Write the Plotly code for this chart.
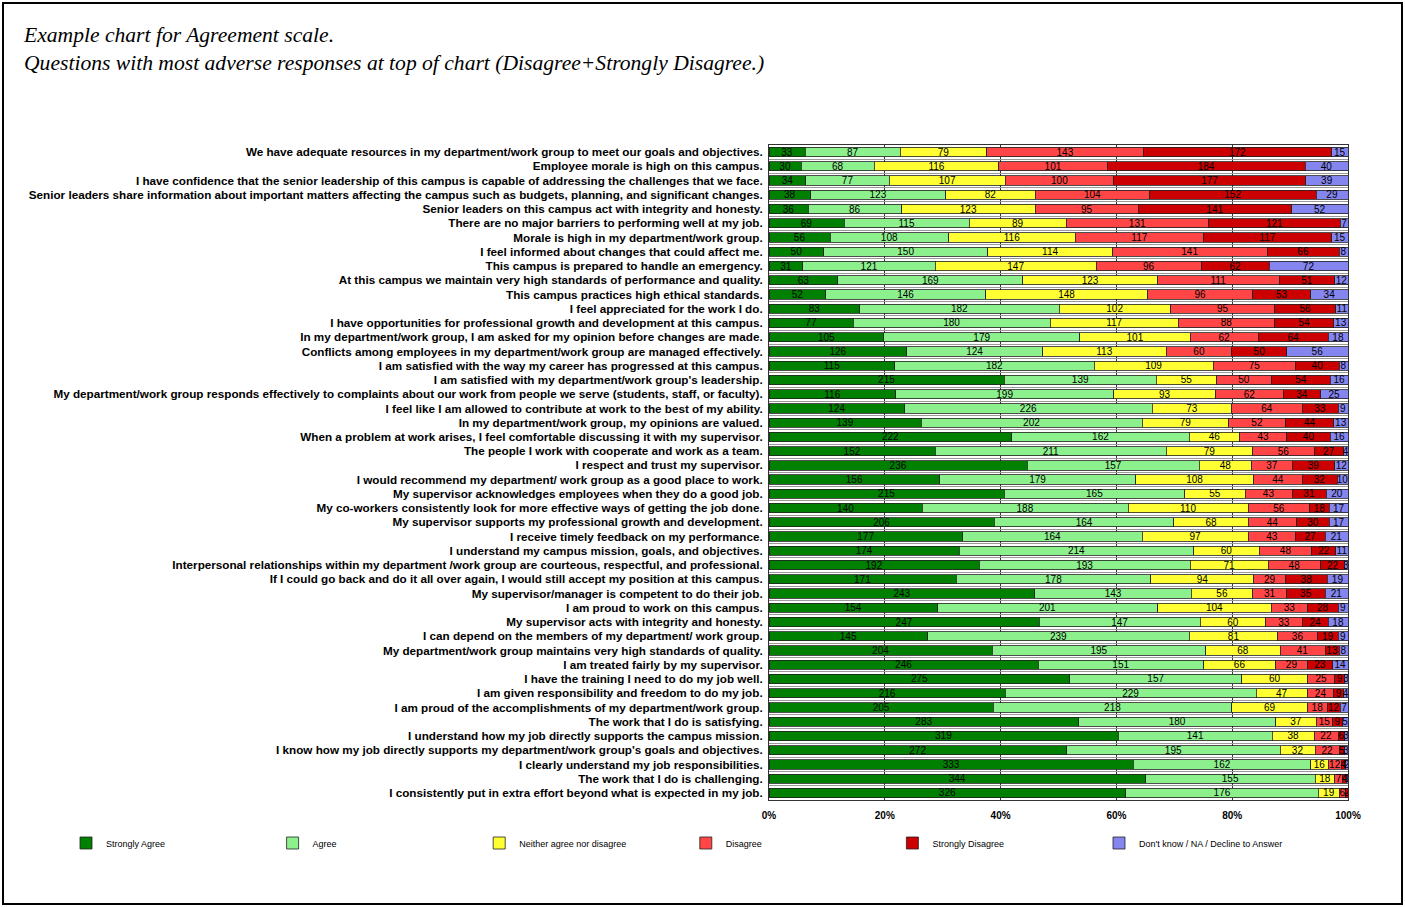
import plotly.graph_objects as go

questions = [
    "We have adequate resources in my department/work group to meet our goals and objectives.",
    "Employee morale is high on this campus.",
    "I have confidence that the senior leadership of this campus is capable of addressing the challenges that we face.",
    "Senior leaders share information about important matters affecting the campus such as budgets, planning, and significant changes.",
    "Senior leaders on this campus act with integrity and honesty.",
    "There are no major barriers to performing well at my job.",
    "Morale is high in my department/work group.",
    "I feel informed about changes that could affect me.",
    "This campus is prepared to handle an emergency.",
    "At this campus we maintain very high standards of performance and quality.",
    "This campus practices high ethical standards.",
    "I feel appreciated for the work I do.",
    "I have opportunities for professional growth and development at this campus.",
    "In my department/work group, I am asked for my opinion before changes are made.",
    "Conflicts among employees in my department/work group are managed effectively.",
    "I am satisfied with the way my career has progressed at this campus.",
    "I am satisfied with my department/work group's leadership.",
    "My department/work group responds effectively to complaints about our work from people we serve (students, staff, or faculty).",
    "I feel like I am allowed to contribute at work to the best of my ability.",
    "In my department/work group, my opinions are valued.",
    "When a problem at work arises, I feel comfortable discussing it with my supervisor.",
    "The people I work with cooperate and work as a team.",
    "I respect and trust my supervisor.",
    "I would recommend my department/ work group as a good place to work.",
    "My supervisor acknowledges employees when they do a good job.",
    "My co-workers consistently look for more effective ways of getting the job done.",
    "My supervisor supports my professional growth and development.",
    "I receive timely feedback on my performance.",
    "I understand my campus mission, goals, and objectives.",
    "Interpersonal relationships within my department /work group are courteous, respectful, and professional.",
    "If I could go back and do it all over again, I would still accept my position at this campus.",
    "My supervisor/manager is competent to do their job.",
    "I am proud to work on this campus.",
    "My supervisor acts with integrity and honesty.",
    "I can depend on the members of my department/ work group.",
    "My department/work group maintains very high standards of quality.",
    "I am treated fairly by my supervisor.",
    "I have the training I need to do my job well.",
    "I am given responsibility and freedom to do my job.",
    "I am proud of the accomplishments of my department/work group.",
    "The work that I do is satisfying.",
    "I understand how my job directly supports the campus mission.",
    "I know how my job directly supports my department/work group's goals and objectives.",
    "I clearly understand my job responsibilities.",
    "The work that I do is challenging.",
    "I consistently put in extra effort beyond what is expected in my job.",
]

strongly_agree = [33, 30, 34, 38, 36, 69, 56, 50, 31, 63, 52, 83, 77, 105, 126, 115, 215, 116, 124, 139,
                  222, 152, 236, 156, 215, 140, 206, 177, 174, 192, 171, 243, 154, 247, 145, 204, 246, 275,
                  216, 205, 283, 319, 272, 333, 344, 326]
agree = [87, 68, 77, 123, 86, 115, 108, 150, 121, 169, 146, 182, 180, 179, 124, 182, 139, 199, 226, 202,
         162, 211, 157, 179, 165, 188, 164, 164, 214, 193, 178, 143, 201, 147, 239, 195, 151, 157,
         229, 218, 180, 141, 195, 162, 155, 176]
neither = [79, 116, 107, 82, 123, 89, 116, 114, 147, 123, 148, 102, 117, 101, 113, 109, 55, 93, 73, 79,
           46, 79, 48, 108, 55, 110, 68, 97, 60, 71, 94, 56, 104, 60, 81, 68, 66, 60,
           47, 69, 37, 38, 32, 16, 18, 19]
disagree = [143, 101, 100, 104, 95, 131, 117, 141, 96, 111, 96, 95, 88, 62, 60, 75, 50, 62, 64, 52,
            43, 56, 37, 44, 43, 56, 44, 43, 48, 48, 29, 31, 33, 33, 36, 41, 29, 25,
            24, 18, 15, 22, 22, 12, 7, 6]
strongly_disagree = [172, 184, 177, 152, 141, 121, 117, 66, 62, 51, 53, 56, 54, 64, 50, 40, 54, 34, 33, 44,
                     40, 27, 39, 32, 31, 18, 30, 27, 22, 22, 38, 35, 28, 24, 19, 13, 23, 9,
                     9, 12, 9, 6, 5, 4, 4, 2]
dont_know = [15, 40, 39, 29, 52, 7, 15, 8, 72, 12, 34, 11, 13, 18, 56, 8, 16, 25, 9, 13,
             16, 4, 12, 10, 20, 17, 17, 21, 11, 3, 19, 21, 9, 18, 9, 8, 14, 3,
             4, 7, 5, 3, 3, 2, 1, 0]

series_names = ["Strongly Agree", "Agree", "Neither agree nor disagree", "Disagree",
                "Strongly Disagree", "Don't know / NA / Decline to Answer"]
series_values = [strongly_agree, agree, neither, disagree, strongly_disagree, dont_know]
series_colors = ["#008000", "#8CF08C", "#FFFF33", "#FF4545", "#CC0000", "#8585F0"]

x_ticks = [0, 20, 40, 60, 80, 100]

W, H = 1405, 907
ML, MR, MT, MB = 769, 57, 145, 107

fig = go.Figure()
for name, vals, col in zip(series_names, series_values, series_colors):
    fig.add_trace(go.Bar(
        y=questions, x=vals, name=name, orientation="h",
        marker=dict(color=col, line=dict(color="#222222", width=0.8)),
        text=[str(v) if v > 0 else "" for v in vals],
        textposition="inside", insidetextanchor="middle", textangle=0,
        constraintext="none",
        textfont=dict(family="Liberation Sans, Arial", size=10, color="#000000"),
    ))

pw = W - ML - MR
ph = H - MT - MB

fig.update_layout(
    width=W, height=H,
    margin=dict(l=ML, r=MR, t=MT, b=MB, autoexpand=False),
    barmode="stack", barnorm="percent", bargap=0.35,
    plot_bgcolor="white", paper_bgcolor="white",
    font=dict(family="Liberation Sans, Arial", color="black"),
    title=dict(
        text="Example chart for Agreement scale.<br>Questions with most adverse responses at top of chart (Disagree+Strongly Disagree.)",
        x=24 / W, xanchor="left", xref="container",
        y=1 - 42 / H, yanchor="top", yref="container",
        font=dict(family="Liberation Serif, Times New Roman", size=21.6, style="italic", color="black"),
    ),
    xaxis=dict(
        range=[0, 100], tickvals=x_ticks, ticktext=[f"{t}%" for t in x_ticks],
        showgrid=True, gridcolor="#333333", gridwidth=1,
        showline=True, linecolor="#333333", mirror=True, linewidth=1,
        ticks="", ticklabelstandoff=6,
        tickfont=dict(size=10, family="Liberation Sans, Arial", weight="bold"),
        zeroline=False, fixedrange=True,
    ),
    yaxis=dict(
        type="category", categoryorder="array", categoryarray=questions,
        autorange="reversed", tickson="boundaries",
        showgrid=True, gridcolor="#9a9a9a", gridwidth=1,
        showline=True, linecolor="#333333", mirror=True, linewidth=1,
        ticks="", ticklabelstandoff=3,
        tickfont=dict(size=11.7, family="Liberation Sans, Arial", weight="bold"),
    ),
    legend=dict(
        orientation="h", x=(66 - ML) / pw, xanchor="left",
        y=-(843 - (H - MB)) / ph, yanchor="middle",
        entrywidth=161.6, entrywidthmode="pixels",
        font=dict(size=9, family="Liberation Sans, Arial"),
        traceorder="normal",
    ),
    showlegend=True,
    shapes=[dict(
        type="rect", xref="paper", yref="paper",
        x0=(3 - ML) / pw, x1=(W - 3 - ML) / pw,
        y0=-(H - 3 - (H - MB)) / ph, y1=1 + (MT - 3) / ph,
        line=dict(color="black", width=2), fillcolor="rgba(0,0,0,0)", layer="below",
    )],
)

fig.write_html("out.html", config={"displayModeBar": False},
               post_script="document.body.style.margin='0';")
